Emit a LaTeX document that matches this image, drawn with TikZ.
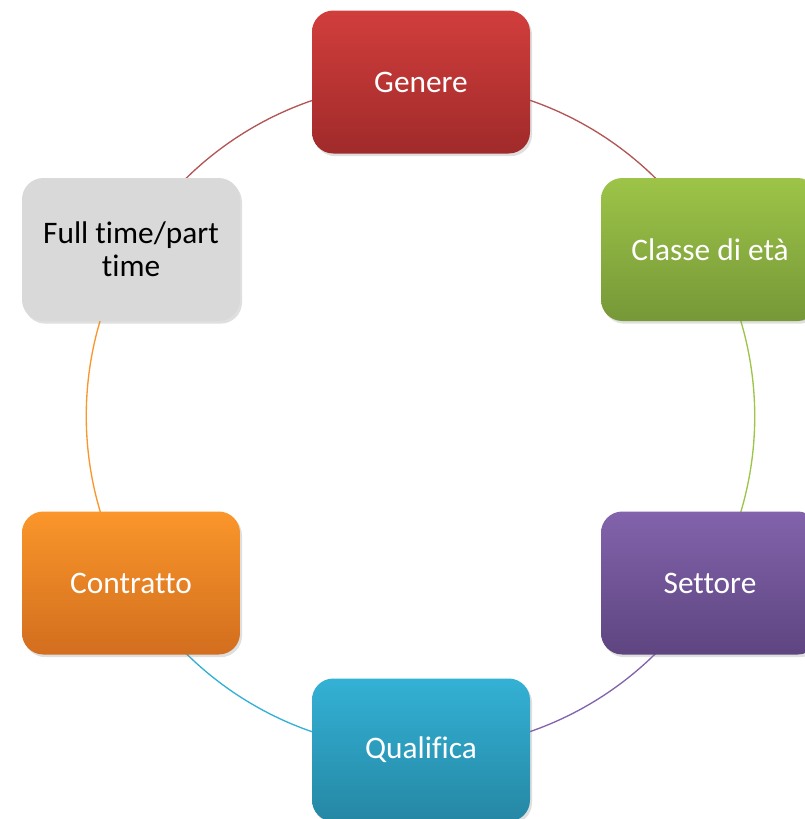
\documentclass[tikz,border=0pt]{standalone}
\usepackage{fontspec}
\setmainfont{Carlito}[Ligatures={NoCommon}]
\usetikzlibrary{shadows}

\definecolor{genereTop}{RGB}{209,62,60}
\definecolor{genereBot}{RGB}{160,42,42}
\definecolor{classeTop}{RGB}{157,196,72}
\definecolor{classeBot}{RGB}{118,152,56}
\definecolor{settoreTop}{RGB}{130,99,172}
\definecolor{settoreBot}{RGB}{94,69,128}
\definecolor{qualTop}{RGB}{51,177,213}
\definecolor{qualBot}{RGB}{37,135,164}
\definecolor{contrTop}{RGB}{250,150,42}
\definecolor{contrBot}{RGB}{210,110,30}
\definecolor{fullGray}{RGB}{217,217,217}

\pgfdeclarelayer{ringlayer}
\pgfsetlayers{ringlayer,main}

\tikzset{
	box/.style={rounded corners=16pt, minimum width=163.5pt, minimum height=107.25pt,
		align=center, text=white, font=\fontsize{23.5}{25}\selectfont,
		drop shadow={shadow xshift=1.5pt, shadow yshift=-2pt, opacity=0.25}},
	ring/.style={line width=1pt}}

\begin{document}
\begin{tikzpicture}[x=0.75pt,y=0.75pt,yscale=-1,xscale=1]
	\useasboundingbox (0,0) rectangle (805,819);
	\clip (0,0) rectangle (805,819);

	% boxes
	\node[box, top color=genereTop, bottom color=genereBot] (genere) at (421,82) {Genere};
	\node[box, top color=classeTop, bottom color=classeBot] (classe) at (710,249.5) {Classe di età};
	\node[box, top color=settoreTop, bottom color=settoreBot] (settore) at (710,583) {Settore};
	\node[box, top color=qualTop, bottom color=qualBot] (qualifica) at (421,750) {Qualifica};
	\node[box, top color=contrTop, bottom color=contrBot] (contratto) at (131,583) {Contratto};
	\node[box, fill=fullGray, text=black] (fulltime) at (131,249.5) {Full time/part\\time};

	% ring segments, behind the boxes
	\begin{pgfonlayer}{ringlayer}
		\draw[ring, genereBot!80!white] (genere.center) arc[start angle=270, end angle=330, radius=334];
		\draw[ring, classeTop] (classe.center) arc[start angle=330, end angle=390, radius=334];
		\draw[ring, settoreTop] (settore.center) arc[start angle=30, end angle=90, radius=334];
		\draw[ring, qualTop] (qualifica.center) arc[start angle=90, end angle=150, radius=334];
		\draw[ring, contrTop] (contratto.center) arc[start angle=150, end angle=210, radius=334];
		\draw[ring, genereBot!80!white] (fulltime.center) arc[start angle=210, end angle=270, radius=334];
	\end{pgfonlayer}
\end{tikzpicture}
\end{document}
